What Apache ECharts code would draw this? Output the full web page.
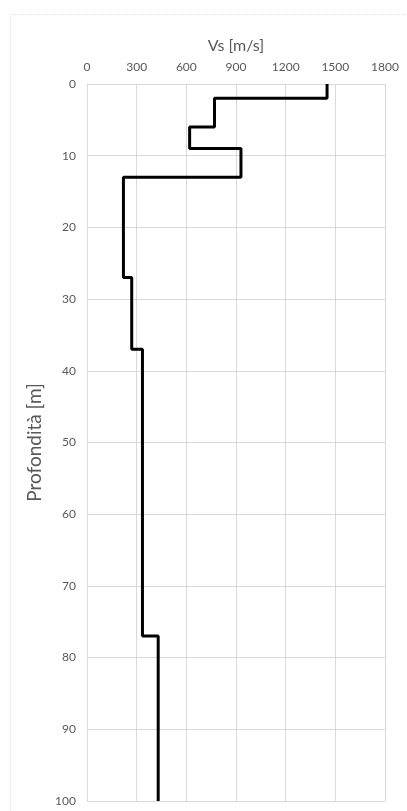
<!DOCTYPE html>
<html>
<head>
<meta charset="utf-8">
<script src="https://cdn.jsdelivr.net/npm/echarts@6/dist/echarts.min.js"></script>
<style>
  html, body { margin: 0; padding: 0; background: #fff; }
  #graph { width: 407px; height: 811px; }
</style>
</head>
<body>
<div id="graph"></div>
<script>
"use strict"

// layer boundaries (m) and shear-wave velocity of each layer (m/s)
const depths = [0, 2, 6, 9, 13, 27, 37, 77, 100];
const vs = [1450, 770, 620, 930, 220, 270, 335, 430];
const xTicks = [0, 300, 600, 900, 1200, 1500, 1800];
const yTicks = [0, 10, 20, 30, 40, 50, 60, 70, 80, 90, 100];

// stepped profile: each layer a vertical segment
const profile = [];
vs.forEach((v, i) =>
{
    profile.push([v, depths[i]]);
    profile.push([v, depths[i + 1]]);
});

const gridCol = "#d9d9d9";
const labCol = "#595959";
const font = "Lato, 'Open Sans', sans-serif";

const myChart = echarts.init(document.getElementById("graph"), null, { renderer: "canvas" });

myChart.setOption({
    animation: false,
    graphic: [{
        type: "rect",
        shape: { x: 10.5, y: 14.5, width: 420, height: 820 },
        style: { fill: "none", stroke: "#e0e0e0", lineWidth: 1, lineDash: [2, 2] },
        silent: true,
        z: -1
    }],
    grid: { left: 87, top: 84, width: 298, height: 717 },
    xAxis: {
        type: "value",
        position: "top",
        min: xTicks[0],
        max: xTicks[xTicks.length - 1],
        interval: 300,
        name: "Vs [m/s]",
        nameLocation: "middle",
        nameGap: 30,
        nameTextStyle: { color: labCol, fontSize: 16, fontFamily: font },
        axisLine: { show: true, lineStyle: { color: gridCol } },
        axisTick: { show: false },
        axisLabel: { color: labCol, fontSize: 12, fontFamily: font, margin: 11, formatter: v => String(v) },
        splitLine: { show: true, lineStyle: { color: gridCol, width: 1 } }
    },
    yAxis: {
        type: "value",
        inverse: true,
        min: yTicks[0],
        max: yTicks[yTicks.length - 1],
        interval: 10,
        name: "Profondità [m]",
        nameLocation: "middle",
        nameGap: 36,
        nameRotate: 90,
        nameTextStyle: { color: labCol, fontSize: 19, fontFamily: font },
        axisLine: { show: true, lineStyle: { color: gridCol } },
        axisTick: { show: false },
        axisLabel: { color: labCol, fontSize: 12, fontFamily: font, margin: 11 },
        splitLine: { show: true, lineStyle: { color: gridCol, width: 1 } }
    },
    series: [{
        type: "line",
        data: profile,
        showSymbol: false,
        lineStyle: { color: "#000", width: 3 },
        z: 5
    }]
});
</script>
</body>
</html>
